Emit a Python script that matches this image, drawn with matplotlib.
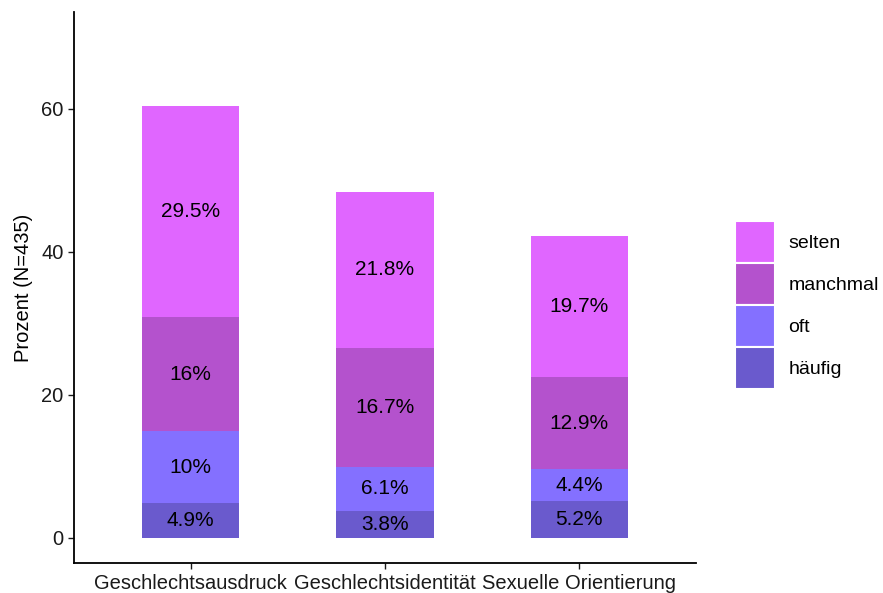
import matplotlib.pyplot as plt
from matplotlib.patches import Patch
import numpy as np

plt.rcParams['font.family'] = ['Liberation Sans', 'DejaVu Sans']

categories = ["Geschlechtsausdruck", "Geschlechtsidentität", "Sexuelle Orientierung"]
levels = ["häufig", "oft", "manchmal", "selten"]
haeufig = [4.9, 3.8, 5.2]
oft = [10, 6.1, 4.4]
manchmal = [16, 16.7, 12.9]
selten = [29.5, 21.8, 19.7]
label_texts = {
    "häufig": ["4.9%", "3.8%", "5.2%"],
    "oft": ["10%", "6.1%", "4.4%"],
    "manchmal": ["16%", "16.7%", "12.9%"],
    "selten": ["29.5%", "21.8%", "19.7%"],
}
colors = {"häufig": "#6A5ACD", "oft": "#8470FF", "manchmal": "#B452CD", "selten": "#E066FF"}

series = {"häufig": haeufig, "oft": oft, "manchmal": manchmal, "selten": selten}

fig = plt.figure(figsize=(8.83, 5.93), dpi=100)
ax = fig.add_axes([74 / 883, 30 / 593, (696 - 74) / 883, (563 - 12) / 593])

x = np.arange(1, len(categories) + 1)
bottom = np.zeros(len(categories))
for lev in levels:
    vals = np.array(series[lev])
    ax.bar(x, vals, width=0.5, bottom=bottom, color=colors[lev], edgecolor="none")
    for xi, b, v, t in zip(x, bottom, vals, label_texts[lev]):
        ax.text(xi, b + v / 2, t, ha="center", va="center", fontsize=15, color="black")
    bottom += vals

ax.set_xlim(0.4, 3.6)
ax.set_ylim(-3.5, 73.5)
ax.set_yticks([0, 20, 40, 60])
ax.set_xticks(x)
ax.set_xticklabels(categories)
ax.tick_params(axis="both", labelsize=14.5, colors="#1a1a1a", length=4, width=1)
ax.tick_params(axis="x", pad=4)
ax.set_ylabel("Prozent (N=435)", fontsize=14.5, labelpad=6)
for s in ["top", "right"]:
    ax.spines[s].set_visible(False)
for s in ["left", "bottom"]:
    ax.spines[s].set_linewidth(1.3)

handles = [Patch(facecolor=colors[l], edgecolor="white", linewidth=1.5) for l in reversed(levels)]
fig.legend(handles, list(reversed(levels)), loc="center left", bbox_to_anchor=(725 / 883, 1 - 305 / 593),
           frameon=False, fontsize=14, handlelength=2.06, handleheight=2.95, labelspacing=0.0,
           handletextpad=0.7, borderpad=0)

fig.savefig("out.png", dpi=100)
